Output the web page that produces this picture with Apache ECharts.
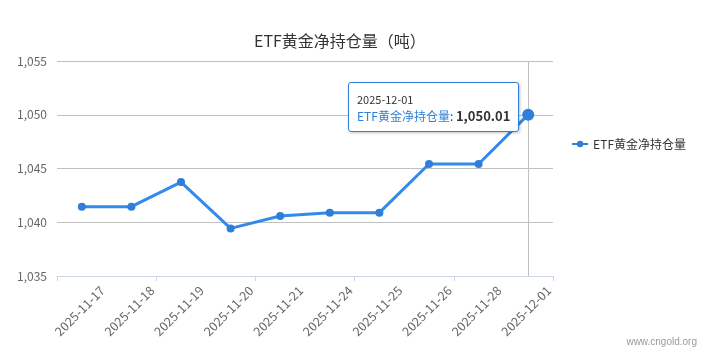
<!DOCTYPE html>
<html>
<head>
<meta charset="utf-8">
<script src="https://cdn.jsdelivr.net/npm/echarts@6/dist/echarts.min.js"></script>
<style>
html,body{margin:0;padding:0;background:#fff;}
#c{width:708px;height:357px;}
</style>
</head>
<body>
<div id="c"></div>
<script>
var titleText = 'ETF黄金净持仓量（吨）';
var seriesName = 'ETF黄金净持仓量';
var categories = ['2025-11-17','2025-11-18','2025-11-19','2025-11-20','2025-11-21','2025-11-24','2025-11-25','2025-11-26','2025-11-28','2025-12-01'];
var values = [1041.45, 1041.45, 1043.74, 1039.43, 1040.58, 1040.89, 1040.89, 1045.42, 1045.42, 1050.01];
var yMin = 1035, yMax = 1055, yStep = 5;
var watermark = 'www.cngold.org';

var FONT = '"Noto Sans CJK SC","Noto Sans",sans-serif';
var BLUE = '#2f7ed8';
function addCommas(v, d){
  var s = d != null ? Number(v).toFixed(d) : String(v);
  var p = s.split('.');
  p[0] = p[0].replace(/\B(?=(\d{3})+(?!\d))/g, ',');
  return p.join('.');
}

var chart = echarts.init(document.getElementById('c'), null, {renderer:'canvas'});
chart.setOption({
  animation: false,
  backgroundColor: '#fff',
  textStyle: {fontFamily: FONT},
  title: {
    text: titleText, left: 249, top: 28,
    textStyle: {fontSize: 16, fontWeight: 'normal', color: '#333', fontFamily: FONT}
  },
  legend: {
    orient: 'vertical', right: 17, top: 133,
    itemWidth: 16, itemHeight: 8, itemGap: 8,
    textStyle: {fontSize: 12, color: '#333', fontFamily: FONT},
    data: [seriesName]
  },
  grid: {left: 57, right: 155, top: 61, bottom: 81, containLabel: false},
  axisPointer: {z: 1},
  tooltip: {
    trigger: 'axis',
    alwaysShowContent: true,
    axisPointer: {type: 'line', z: 1, lineStyle: {color: '#c0c0c0', width: 1, type: 'solid'}, label:{show:false}},
    backgroundColor: 'rgba(255,255,255,0.96)',
    borderColor: BLUE, borderWidth: 1, borderRadius: 3,
    padding: [8, 8, 6, 8],
    extraCssText: 'box-shadow:1px 1px 3px rgba(0,0,0,0.25);',
    position: function(){ return [348, 82]; },
    formatter: function(params){
      var p = params[0];
      return '<div style="font-size:11px;color:#333;line-height:16px;font-family:' + FONT.replace(/"/g,"'") + '">' + p.axisValue + '</div>' +
             '<div style="font-size:12px;line-height:18px;font-family:' + FONT.replace(/"/g,"'") + '"><span style="color:' + BLUE + '">' + p.seriesName + '</span><span style="color:#333">: </span><b style="color:#333;font-size:13px">' + addCommas(p.value, 2) + '</b></div>';
    }
  },
  xAxis: [{
    type: 'category', data: categories, boundaryGap: true,
    axisLine: {lineStyle: {color: '#ccd6eb'}},
    axisTick: {show: true, length: 5, lineStyle: {color: '#ccd6eb'}},
    axisLabel: {show: false},
    splitLine: {show: false}
  }, {
    type: 'category', data: [''].concat(categories), boundaryGap: false, position: 'bottom',
    axisLine: {show: false}, axisTick: {show: false},
    axisPointer: {show: false},
    axisLabel: {show: true, rotate: 45, interval: 0, margin: 8, padding: [0, 6, 0, 0], color: '#666', fontSize: 12.5, fontFamily: FONT},
    splitLine: {show: false}
  }],
  yAxis: {
    type: 'value', min: yMin, max: yMax, interval: yStep,
    axisLine: {show: false}, axisTick: {show: false},
    axisLabel: {color: '#666', fontSize: 12, margin: 10, fontFamily: FONT, formatter: function(v){ return addCommas(v); }},
    splitLine: {lineStyle: {color: '#c0c0c0', width: 1}}
  },
  series: [{
    name: seriesName, type: 'line', xAxisIndex: 0, data: values, z: 3,
    symbol: 'circle', symbolSize: 8,
    itemStyle: {color: BLUE, borderWidth: 0},
    lineStyle: {color: BLUE, width: 3},
    emphasis: {scale: 1.5, itemStyle: {color: BLUE, borderWidth: 0}}
  }],
  graphic: [{
    type: 'text', right: 11, top: 337,
    style: {text: watermark, fill: '#999', fontSize: 10, fontFamily: '"Liberation Sans",Arial,sans-serif'}
  }]
});
chart.dispatchAction({type: 'showTip', seriesIndex: 0, dataIndex: categories.length - 1});
</script>
</body>
</html>
